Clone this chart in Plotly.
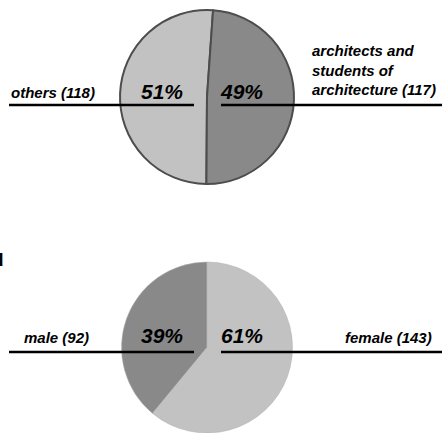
import plotly.graph_objects as go

W, H = 442, 433

# Data
top_labels = ["others (118)", "architects and students of architecture (117)"]
top_counts = [118, 117]
top_share = [51, 49]          # percent shown on the slices
top_pct = ["51%", "49%"]

bot_labels = ["male (92)", "female (143)"]
bot_counts = [92, 143]
bot_share = [39, 61]
bot_pct = ["39%", "61%"]

LIGHT = "#c2c2c2"
DARK = "#898989"

def px(x):
    return x / W

def py(y):
    return 1 - y / H

# first slice sits left of 12 o'clock (counterclockwise from the top)
top_rot = 4 - 360 * top_share[0] / sum(top_share)
bot_rot = -360 * bot_share[0] / sum(bot_share)

fig = go.Figure()

fig.add_trace(go.Pie(
    labels=top_labels, values=top_share, sort=False,
    direction="clockwise", rotation=top_rot,
    marker=dict(colors=[LIGHT, DARK], line=dict(color="#4d4d4d", width=2)),
    textinfo="none", hoverinfo="label+percent", showlegend=False,
    domain=dict(x=[px(120), px(294)], y=[py(184), py(10)]),
))

fig.add_trace(go.Pie(
    labels=bot_labels, values=bot_share, sort=False,
    direction="clockwise", rotation=bot_rot,
    marker=dict(colors=[DARK, LIGHT], line=dict(color="#b0b0b0", width=0.5)),
    textinfo="none", hoverinfo="label+percent", showlegend=False,
    domain=dict(x=[px(120), px(294)], y=[0, py(262)]),
))

shapes = []
for yl in (105, 352):
    shapes.append(dict(type="line", xref="paper", yref="paper",
                       x0=px(9), x1=px(194), y0=py(yl), y1=py(yl),
                       line=dict(color="black", width=2.5)))
    shapes.append(dict(type="line", xref="paper", yref="paper",
                       x0=px(221), x1=px(442), y0=py(yl), y1=py(yl),
                       line=dict(color="black", width=2.5)))

FONT = "Liberation Sans, Arial, sans-serif"
lab_font = dict(family=FONT, size=15, color="black", weight="bold", style="italic")
pct_font = dict(family=FONT, size=21, color="black", weight="bold", style="italic")

ann = []
def add(text, x, y, font, xanchor="left", align="left"):
    ann.append(dict(text=text, x=px(x), y=py(y), xref="paper", yref="paper",
                    xanchor=xanchor, yanchor="middle", showarrow=False,
                    font=font, align=align))

add(top_labels[0], 9, 92, lab_font)
add("architects and<br>students of<br>architecture (117)", 310, 70, lab_font)
add(top_pct[0], 185, 91, pct_font, xanchor="right")
add(top_pct[1], 218, 91, pct_font)

add(bot_labels[0], 22, 337, lab_font)
add(bot_labels[1], 434, 337, lab_font, xanchor="right")
add(bot_pct[0], 185, 335, pct_font, xanchor="right")
add(bot_pct[1], 219, 335, pct_font)

add("d", 6, 259, dict(family=FONT, size=19, color="black", weight="bold"), xanchor="right")

fig.update_layout(
    width=W, height=H, margin=dict(l=0, r=0, t=0, b=0),
    paper_bgcolor="white", plot_bgcolor="white",
    shapes=shapes, annotations=ann, showlegend=False,
)

fig.write_html("out.html", config={"displayModeBar": False},
               post_script="document.body.style.margin='0';document.body.style.overflow='hidden';")
with open("out.html", "r", encoding="utf-8") as f:
    html = f.read()
html = html.replace("<head>", "<head><style>html,body{margin:0;padding:0;overflow:hidden;}</style>", 1)
with open("out.html", "w", encoding="utf-8") as f:
    f.write(html)
